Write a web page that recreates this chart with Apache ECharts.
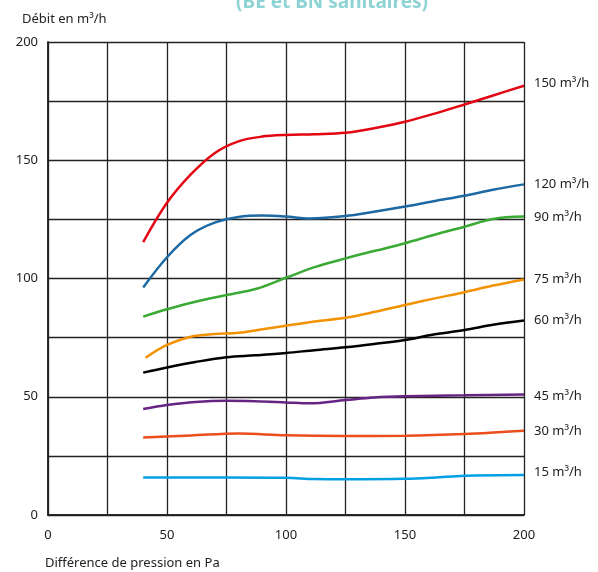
<!DOCTYPE html>
<html><head><meta charset="utf-8">
<script src="https://cdn.jsdelivr.net/npm/echarts@6/dist/echarts.min.js"></script>
<style>html,body{margin:0;padding:0;background:#fff}#c{width:598px;height:572px}</style>
</head><body><div id="c"></div>
<script>
const seriesNames = ['150 m³/h','120 m³/h','90 m³/h','75 m³/h','60 m³/h','45 m³/h','30 m³/h','15 m³/h'];
const seriesColors = ['#e30613','#1d69a3','#3aaa35','#f39200','#000000','#662483','#e94e1b','#00a0e3'];
const s150 = [[40,115.4],[50,132],[60,144],[70,153],[80,158],[90,160],[100,160.7],[112,161],[125,161.6],[137,163.5],[150,166.3],[162,169.6],[175,173.6],[187,177.4],[200,181.5]];
const s120 = [[40,96.2],[50,109],[60,118.5],[70,123.6],[80,126],[90,126.6],[100,126.2],[110,125.4],[125,126.4],[137,128.2],[150,130.4],[162,132.7],[175,135],[187,137.5],[200,139.8]];
const s90  = [[40,83.9],[50,87],[62,90.2],[75,93],[88,95.8],[100,100.3],[112,104.8],[125,108.5],[137,111.6],[150,114.9],[162,118.4],[175,121.9],[187,125.2],[200,126.2]];
const s75  = [[41,66.5],[50,71.9],[60,75.4],[70,76.5],[80,77.1],[90,78.5],[100,80],[112,81.8],[125,83.4],[137,85.8],[150,88.8],[162,91.5],[175,94.2],[187,97],[200,99.6]];
const s60  = [[40,60.2],[50,62.4],[62,64.7],[75,66.7],[87,67.5],[100,68.5],[112,69.7],[125,70.9],[137,72.3],[150,74],[162,76.3],[175,78.2],[187,80.4],[200,82.2]];
const s45  = [[40,44.8],[50,46.5],[62,47.8],[75,48.3],[87,48.1],[100,47.6],[110,47.2],[125,48.6],[137,49.7],[150,50.2],[175,50.6],[200,51]];
const s30  = [[40,32.8],[60,33.6],[80,34.5],[100,33.7],[125,33.4],[150,33.5],[175,34.2],[200,35.6]];
const s15  = [[40,15.9],[75,15.9],[100,15.7],[112,15.2],[125,15.1],[150,15.3],[162,15.8],[175,16.6],[200,16.9]];
const seriesData = [s150,s120,s90,s75,s60,s45,s30,s15];
const xTicks = [0,50,100,150,200];
const yTicks = [0,50,100,150,200];
const labelOffsets = [[0,-2],[0,0],[0,1],[0,0],[0,0],[0,2],[0,0],[0,-3]];

const font = 'Noto Sans';
const frame = {color:'#222', width:1.5};
const chart = echarts.init(document.getElementById('c'), null, {renderer:'canvas'});
chart.setOption({
  animation:false,
  textStyle:{fontFamily:font},
  title:{text:'(BE et BN sanitaires)', left:327, textAlign:'center', top:-12,
    textStyle:{color:'#8dd3d3', fontSize:19, fontWeight:'bold', fontFamily:font}},
  graphic:[
    {type:'text', left:22, top:13, style:{text:'Débit en m³/h', fontSize:13, fontFamily:font, fill:'#222'}},
    {type:'text', left:45, top:557, style:{text:'Différence de pression en Pa', fontSize:13, fontFamily:font, fill:'#222'}}
  ],
  grid:{left:48, right:74, top:42, bottom:57},
  xAxis:[{type:'value', min:0, max:200, interval:25,
    axisLine:{show:true, lineStyle:frame},
    axisTick:{show:false},
    splitLine:{show:true, lineStyle:{color:'#222', width:1.3}},
    axisLabel:{margin:14, fontSize:13, color:'#222', fontFamily:font,
      formatter:v=> xTicks.includes(v)? String(v):''}},
    {type:'value', position:'top', min:0, max:200, axisLine:{show:true,lineStyle:frame}, axisTick:{show:false}, axisLabel:{show:false}, splitLine:{show:false}}],
  yAxis:[{type:'value', min:0, max:200, interval:25,
    axisLine:{show:true, lineStyle:frame},
    axisTick:{show:false},
    splitLine:{show:true, lineStyle:{color:'#222', width:1.3}},
    axisLabel:{margin:10, fontSize:13, color:'#222', fontFamily:font,
      formatter:v=> yTicks.includes(v)? String(v):''}},
    {type:'value', position:'right', min:0, max:200, axisLine:{show:true,lineStyle:frame}, axisTick:{show:false}, axisLabel:{show:false}, splitLine:{show:false}}],
  series: seriesData.map((d,i)=>({
    type:'line', name:seriesNames[i], data:d, smooth:0.35, showSymbol:false,
    lineStyle:{color:seriesColors[i], width:2.5}, itemStyle:{color:seriesColors[i]},
    endLabel:{show:true, formatter:seriesNames[i], distance:10, offset:labelOffsets[i],
      color:'#222', fontSize:13, fontFamily:font}
  }))
});
</script>
</body></html>
